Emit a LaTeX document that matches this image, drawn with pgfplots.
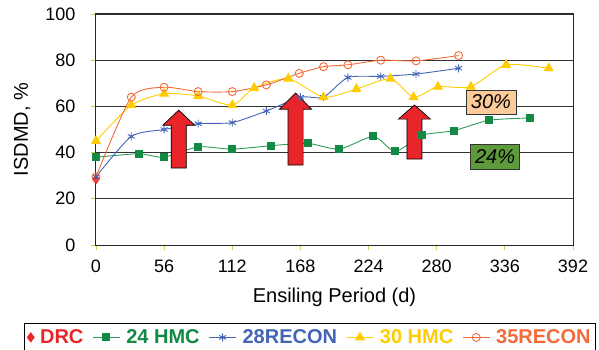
\documentclass[border=0pt]{standalone}
\usepackage{pgfplots}
\pgfplotsset{compat=1.18}
\usepackage{fontspec}
\setmainfont{Liberation Sans}
\definecolor{cDRC}{HTML}{E8262A}
\definecolor{cG}{HTML}{138A43}
\definecolor{cGl}{HTML}{2E9B5A}
\definecolor{cB}{HTML}{4464B8}
\definecolor{cY}{HTML}{FFCC00}
\definecolor{cO}{HTML}{F26B38}
\definecolor{cPeach}{HTML}{FBCB9A}
\definecolor{cBoxG}{HTML}{5E9A3C}
\definecolor{cTick}{HTML}{D8D040}
\pgfplotsset{lineleg/.style={legend image code/.code={\draw[##1] (0pt,0pt) -- (27pt,0pt) plot coordinates {(13.5pt,0pt)};}}}
\begin{document}
\begin{tikzpicture}
\path[use as bounding box] (-96pt,-105pt) rectangle (503pt,245pt);
\begin{axis}[
  at={(0pt,0pt)}, anchor=south west,
  scale only axis, width=477pt, height=231pt,
  xmin=0, xmax=392, ymin=0, ymax=100,
  xtick={0,56,112,168,224,280,336,392},
  ytick={0,20,40,60,80,100},
  ymajorgrids, grid style={color=black!80, line width=0.9pt},
  axis line style={line width=1pt, black!85},
  tick align=outside, major tick length=5pt,
  tick style={color=cTick, line width=0.8pt},
  xtick pos=bottom, ytick pos=left,
  /pgf/number format/assume math mode=true,
  ticklabel style={font=\fontsize{18}{18}\selectfont},
  xticklabel style={yshift=-6pt},
  yticklabel style={xshift=-12pt},
  xlabel={Ensiling Period (d)}, ylabel={ISDMD, \%},
  label style={font=\fontsize{20}{20}\selectfont},
  xlabel style={at={(axis description cs:0.5,-0.225)}, anchor=center},
  ylabel style={at={(axis description cs:-0.155,0.5)}, anchor=center},
  legend columns=5,
  legend style={at={(0.4487,-0.40)}, anchor=center, draw=black, line width=0.8pt,
    font=\fontsize{20}{20}\selectfont\bfseries, inner xsep=3pt, inner ysep=4pt,
    /tikz/every odd column/.append style={column sep=4pt},
    /tikz/every even column/.append style={column sep=7pt}},
  every axis plot/.append style={line width=0.9pt},
]
\addplot[only marks, mark=diamond*, mark size=4.5pt, color=cDRC, mark options={fill=cDRC}] coordinates {(0,28.5)};
\addlegendentry{\textcolor{cDRC}{DRC}}
\addplot[lineleg, smooth, tension=0.4, color=cGl, mark=square*, mark size=3.5pt, mark options={color=cG, fill=cG}] coordinates {
(0,38)(35,39.5)(56,38)(84,42.5)(112,41.5)(144,43)(174,44)(200,41.5)(228,47)(246,40.5)(268,47.5)(294,49.5)(323,54)(357,55)};
\addlegendentry{\textcolor{cG}{24 HMC}}
\addplot[lineleg, smooth, tension=0.4, color=cB, mark=asterisk, mark size=4pt] coordinates {
(0,29.5)(29,47)(56,50)(84,52.5)(112,53)(140,58)(168,64)(187,64)(207,72.5)(234,73)(263,74)(298,76.5)};
\addlegendentry{\textcolor{cB}{28RECON}}
\addplot[lineleg, smooth, tension=0.4, color=cY, mark=triangle*, mark size=5pt, mark options={fill=cY}] coordinates {
(0,45)(29,60.5)(56,65.5)(84,64.5)(112,60.5)(130,68)(158,72)(187,64)(214,67.5)(242,72)(261,64)(281,68.5)(308,68.5)(337,78)(372,76.5)};
\addlegendentry{\textcolor{cY}{30 HMC}}
\addplot[lineleg, smooth, tension=0.4, color=cO, mark=o, mark size=4pt] coordinates {
(0,29.5)(29,64)(56,68.3)(84,66.4)(112,66.4)(140,69.3)(167,74.3)(187,77.2)(207,78)(234,80)(263,79.7)(298,82)};
\addlegendentry{\textcolor{cO}{35RECON}}
% arrows
\draw[fill=cDRC, draw=black, line width=0.7pt]
  (axis cs:61.8,33.3) -- (axis cs:74.2,33.3) -- (axis cs:74.2,51.8) -- (axis cs:81.2,51.8)
  -- (axis cs:68,58.4) -- (axis cs:54.8,51.8) -- (axis cs:61.8,51.8) -- cycle;
\draw[fill=cDRC, draw=black, line width=0.7pt]
  (axis cs:157.8,34.6) -- (axis cs:170.2,34.6) -- (axis cs:170.2,58.8) -- (axis cs:177.2,58.8)
  -- (axis cs:164,65.8) -- (axis cs:150.8,58.8) -- (axis cs:157.8,58.8) -- cycle;
\draw[fill=cDRC, draw=black, line width=0.7pt]
  (axis cs:255.5,37.2) -- (axis cs:267.9,37.2) -- (axis cs:267.9,54.5) -- (axis cs:274.9,54.5)
  -- (axis cs:261.7,60.6) -- (axis cs:248.5,54.5) -- (axis cs:255.5,54.5) -- cycle;
\node[fill=cPeach, draw=black!80, line width=0.8pt, minimum width=50pt, minimum height=24pt, inner sep=0pt,
  font=\fontsize{20}{20}\selectfont\itshape] at (axis cs:324.6,61.9) {30\%};
\node[fill=cBoxG, draw=black!80, line width=0.8pt, minimum width=49pt, minimum height=25pt, inner sep=0pt,
  font=\fontsize{20}{20}\selectfont\itshape] at (axis cs:328,38.1) {24\%};
\end{axis}
\end{tikzpicture}
\end{document}
